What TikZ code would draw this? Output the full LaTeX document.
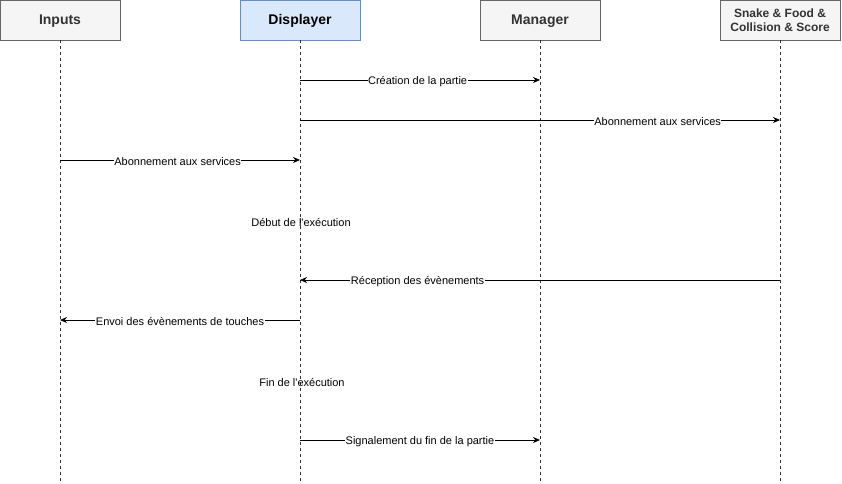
\documentclass[tikz,border=0pt]{standalone}
\usepackage{fontspec}
\setmainfont{Liberation Sans}
\usepackage{tikz}
\usetikzlibrary{positioning,arrows.meta,calc}
\definecolor{boxgray}{HTML}{F5F5F5}
\definecolor{linegray}{HTML}{666666}
\definecolor{txtgray}{HTML}{333333}
\definecolor{boxblue}{HTML}{DAE8FC}
\definecolor{lineblue}{HTML}{6C8EBF}
\tikzset{
  actor/.style={draw=linegray, fill=boxgray, minimum width=120pt, minimum height=40pt,
    text=txtgray, font=\fontsize{14}{16}\selectfont\bfseries, align=center, inner sep=0pt,
    text height=8pt, text depth=0pt},
  life/.style={dashed, line width=0.6pt, draw=black!80},
  msg/.style={-{Stealth[length=7pt,width=6pt]}, line width=0.6pt},
  lbl/.style={fill=white, inner sep=0.5pt, yshift=-1.2pt, font=\fontsize{11}{13}\selectfont},
  note/.style={font=\fontsize{11}{13}\selectfont}
}
\begin{document}
\begin{tikzpicture}[x=1pt,y=-1pt]
  \useasboundingbox (0,0) rectangle (842,483);
  % the four actors
  \node[actor] (inp) at (60,20) {Inputs};
  \node[actor, fill=boxblue, draw=lineblue, text=black] (disp) at (300,20) {Displayer};
  \node[actor, font=\fontsize{12}{14.5}\selectfont\bfseries, text height=, text depth=] (game) at (780,20)
    {\raisebox{-2pt}{Snake \& Food \&}\\\raisebox{-2pt}{Collision \& Score}};
  \node[actor] (mgr) at (540,20) {Manager};
  % lifelines
  \foreach \n/\x in {inp/60,disp/300,mgr/540,game/780} {
    \coordinate (\n end) at (\x,481);
    \draw[life] (\n.south) -- (\n end);
  }
  % messages
  \coordinate (d1) at (300,80);  \coordinate (m1) at (540,80);
  \coordinate (d2) at (300,120); \coordinate (g2) at (780,120);
  \coordinate (i3) at (60,160);  \coordinate (d3) at (300,160);
  \coordinate (g4) at (780,280); \coordinate (d4) at (300,280);
  \coordinate (d5) at (300,320); \coordinate (i5) at (60,320);
  \coordinate (d6) at (300,440); \coordinate (m6) at (540,440);
  \draw[msg] (d1) -- node[lbl, pos=0.49] {Création de la partie} (m1);
  \draw[msg] (d2) -- node[lbl, pos=0.745] {Abonnement aux services} (g2);
  \draw[msg] (i3) -- node[lbl, pos=0.49] {Abonnement aux services} (d3);
  \draw[msg] (g4) -- node[lbl, pos=0.755] {Réception des évènements} (d4);
  \draw[msg] (d5) -- node[lbl, pos=0.5] {Envoi des évènements de touches} (i5);
  \draw[msg] (d6) -- node[lbl, pos=0.5] {Signalement du fin de la partie} (m6);
  % notes on the displayer lifeline
  \node[note] (start) at (301,222) {Début de l\textquotesingle exécution};
  \node[note] (stop) at (302,382) {Fin de l\textquotesingle exécution};
\end{tikzpicture}
\end{document}
